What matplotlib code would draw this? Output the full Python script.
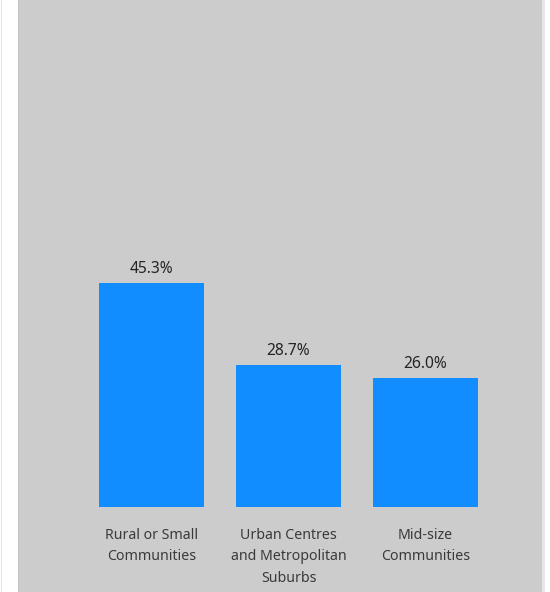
import matplotlib.pyplot as plt
import matplotlib.patches as patches

# data kategori dan persentase
categories = ['Rural or Small\nCommunities',
              'Urban Centres\nand Metropolitan\nSuburbs',
              'Mid-size\nCommunities']
values = [45.3, 28.7, 26.0]
value_labels = ['45.3%', '28.7%', '26.0%']

W, H = 550, 592
fig = plt.figure(figsize=(W / 100, H / 100), dpi=100)
fig.patch.set_facecolor('white')


def strip(x, w, color):
    # kotak vertikal setinggi figure (koordinat piksel)
    fig.add_artist(patches.Rectangle((x / W, 0), w / W, 1, transform=fig.transFigure,
                                     facecolor=color, edgecolor='none', zorder=-10))


# garis tipis di kiri dan panel abu-abu di belakang chart
strip(1, 1, '#e3e3e3')
strip(18, 524, '#cccccc')
strip(18, 1, '#c2c2c2')
strip(542, 3, '#e6e6e6')

# area plot: sumbu x dari -0.5 s/d 2.5, nilai 0 di piksel y=507
left, right = 83, 494
base = 507
ax = fig.add_axes([left / W, (H - base) / H, (right - left) / W, base / H])
ax.set_facecolor('none')
ax.set_xlim(-0.5, 2.5)
ax.set_ylim(0, base / 4.95)

bars = ax.bar(range(len(values)), values, width=0.76, color='#118dff')
ax.bar_label(bars, labels=value_labels, padding=4.5, fontsize=11.2,
             color='#252423', family='Noto Sans')

ax.set_xticks(range(len(categories)))
ax.set_xticklabels(categories, fontsize=10.2, color='#3b3a39',
                   family='Noto Sans', linespacing=1.58)
ax.tick_params(axis='x', length=0, pad=15)
ax.set_yticks([])
for s in ax.spines.values():
    s.set_visible(False)

fig.savefig('out.png', dpi=100)
